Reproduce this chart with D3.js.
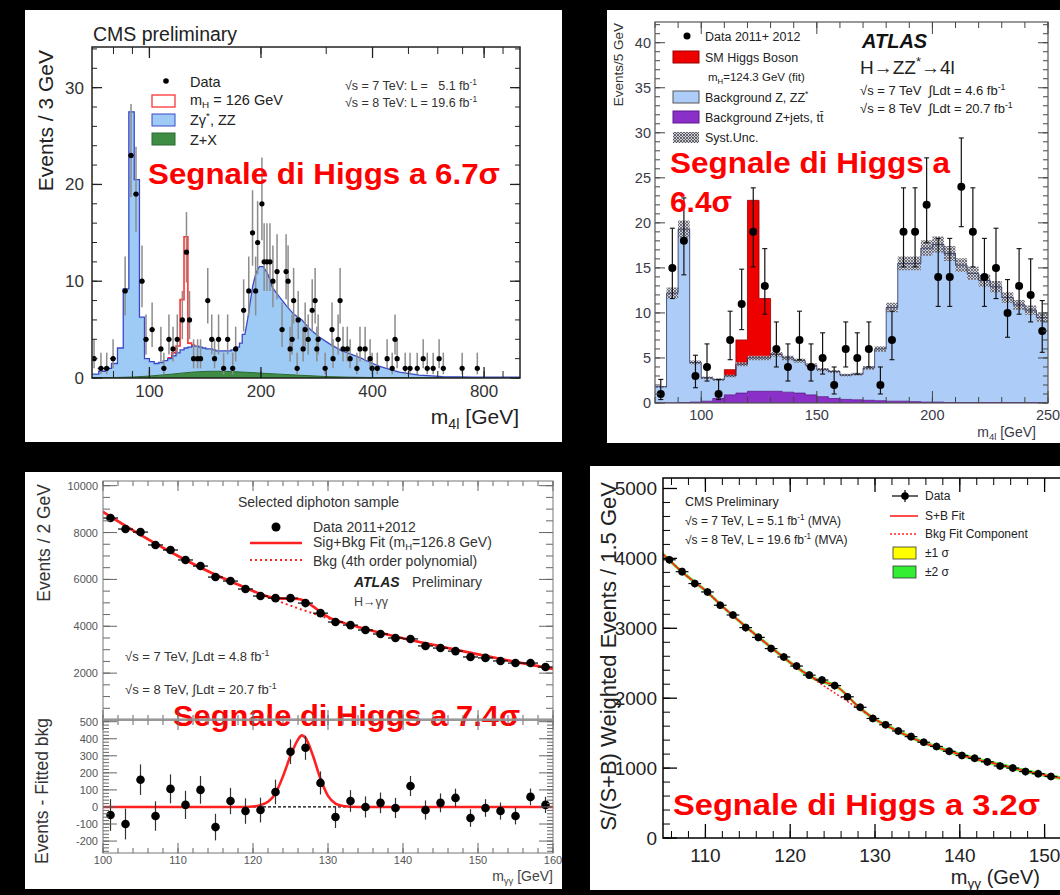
<!DOCTYPE html>
<html>
<head>
<meta charset="utf-8">
<script src="https://cdn.jsdelivr.net/npm/d3@7"></script>
<style>
  html, body { margin: 0; padding: 0; background: #000; }
  svg { display: block; }
</style>
</head>
<body>
<div id="chart"></div>
<script>

/* DATA *******************************************************************************/

// CMS H->ZZ->4l (top left): ZZ background in 3 GeV bins up to 181 GeV, then smooth tail
var cms4lBinLow = [70,73,76,79,82,85,88,91,94,97,100,103,106,109,112,115,118,121,124,127,130,133,136,139,142,145,148,151,154,157,160,163,166,169,172,175,178];
var cms4lZZ = [0.4,0.7,1.0,1.5,3.1,9.2,27.5,20.5,6.3,2.0,1.7,1.5,1.6,1.8,2.0,2.3,2.6,2.9,3.1,3.2,3.3,3.3,3.2,3.1,3.0,3.0,2.9,2.8,2.8,2.8,2.8,2.8,2.9,3.0,3.2,3.6,4.5];
var cms4lTailMass = [181,184,187,190,194,198,203,209,215,224,235,245,258,272,288,307,327,348,370,395,418,445,473,535,620,750,1000];
var cms4lTailZZ = [4.5,6.0,7.8,9.5,10.9,11.5,11.5,10.7,9.3,8.4,7.4,6.6,6.0,5.0,4.2,3.5,2.9,2.5,2.1,1.6,1.2,0.9,0.6,0.3,0.15,0.1,0.1];
var cms4lSigLow = [112,115,118,121,124,127,130];
var cms4lSigTot = [2.1,2.6,3.3,8.1,14.6,3.6,3.4];
var cms4lZXMass = [70,90,100,115,130,150,170,200,250,300,400,600,1000];
var cms4lZX = [0.02,0.1,0.2,0.4,0.6,0.7,0.65,0.5,0.3,0.15,0.05,0.01,0];
var cms4lDataMass = [70.9,74.0,76.7,79.8,86.0,89.2,92.0,95.5,97.9,101.7,107.4,109.4,112.9,115.8,118.9,122.7,125.9,128.3,131.6,134.9,137.4,143.7,147.3,149.9,153.7,158.6,162.6,167.8,170.9,179.6,185.4,189.8,193.5,195.9,201.2,204,207.6,211.5,215.4,221,228,233.8,236.7,239.7,242.7,245,250.4,252,259.9,263.2,268.2,275,280,283,285.3,298,311,313,323,327,333,342,348,363,370,382,394,399,412,438,452,460,466,490,505,528,548,562,583,605,621,698,767];
var cms4lDataN = [2,1,1,2,9,23,19,10,4,5,3,1,4,3,4,6,13,6,2,2,2,8,4,2,4,1,4,1,3,7,9,15,9,14,18,12,12,12,10,11,5,11,10,3,4,8,1,6,3,5,4,7,8,3,4,1,5,2,4,8,3,3,2,1,3,3,2,1,1,2,1,4,2,1,1,1,2,1,1,2,1,1,1];
var cms4lYTicks = [0,10,20,30];
var cms4lXTicks = [100,200,400,800];

// ATLAS H->ZZ*->4l (top right): 5 GeV bins
var atlas4lBinLow = [80,85,90,95,100,105,110,115,120,125,130,135,140,145,150,155,160,165,170,175,180,185,190,195,200,205,210,215,220,225,230,235,240,245];
var atlas4lZjets = [0,0,0.05,0.1,0.2,0.5,0.9,1.1,1.3,1.3,1.3,1.2,1.1,0.9,0.7,0.5,0.4,0.35,0.3,0.25,0.2,0.2,0.15,0.1,0.1,0.05,0.05,0.05,0.05,0.05,0.05,0.05,0.05,0.05];
var atlas4lZZ = [1.8,12.2,19.25,4.4,2.6,2.1,2.1,3.2,3.7,3.7,4.1,3.8,3.6,3.3,3.0,3.0,2.7,2.85,3.6,5.75,10.4,15.3,15.35,17.1,17.5,16.55,15.25,14.35,13.55,12.85,11.65,10.85,10.25,9.45];
var atlas4lHiggs = [0,0,0,0,0,0,0.7,2.7,17.5,6.6,0.1,0,0,0,0,0,0,0,0,0,0,0,0,0,0,0,0,0,0,0,0,0,0,0];
var atlas4lDataN = [1,15,18,3,4,1,7,11,19,13,6,4,7,4,5,2,6,5,6,2,7,19,19,22,14,14,24,19,14,15,10,13,12,8];
var atlas4lYTicks = [0,5,10,15,20,25,30,35,40];
var atlas4lXTicks = [100,150,200,250];
var atlas4lSystFrac = 0.05;

// ATLAS H->gamma gamma (bottom left)
var aggMass = [101,103,105,107,109,111,113,115,117,119,121,123,125,127,129,131,133,135,137,139,141,143,145,147,149,151,153,155,157,159];
var aggEvents = [8620,8150,8020,7470,7255,6830,6570,6100,5930,5590,5290,5200,5200,4990,4560,4180,4050,3840,3670,3500,3460,3160,3070,2940,2690,2650,2520,2430,2430,2260];
var aggResid = [-47,-100,160,-53,106,12,100,-118,35,-24,-18,88,324,347,141,-59,35,0,24,-6,123,-18,24,53,-65,-6,-24,-53,59,12];
var aggFitMass = [100,105,110,115,118,120,121,122,123,124,125,126,126.5,127,128,129,130,131,132,134,136,140,145,150,155,160];
var aggBkgFit = [8880,7900,7000,6200,5780,5500,5370,5240,5120,5000,4880,4770,4710,4660,4550,4440,4340,4240,4150,3970,3800,3490,3140,2800,2480,2180];
var aggSigFit = [0,0,0,0,0,3,10,30,80,180,300,395,420,405,300,165,65,20,6,0,0,0,0,0,0,0];
var aggYTicks = [2000,4000,6000,8000,10000];
var aggResTicks = [-200,-100,0,100,200,300,400,500];
var aggXTicks = [100,110,120,130,140,150,160];

// CMS H->gamma gamma, S/(S+B) weighted (bottom right)
var cggMass = [105.75,107.25,108.75,110.25,111.75,113.25,114.75,116.25,117.75,119.25,120.75,122.25,123.75,125.25,126.75,128.25,129.75,131.25,132.75,134.25,135.75,137.25,138.75,140.25,141.75,143.25,144.75,146.25,147.75,149.25,150.75];
var cggWeighted = [3980,3810,3640,3520,3330,3190,3010,2870,2710,2590,2460,2330,2260,2180,2020,1870,1710,1620,1530,1450,1370,1310,1240,1180,1140,1090,1030,1000,950,920,880];
var cggFitMass = [105,107.5,110,112.5,115,117.5,120,122.5,123.5,124.5,125.5,126.5,127.5,128.5,130,132.5,135,137.5,140,142.5,145,147.5,150,152.5,155];
var cggBkgFit = [4060,3780,3540,3260,3000,2750,2510,2300,2215,2135,2055,1975,1895,1820,1700,1540,1400,1290,1195,1110,1040,965,900,845,790];
var cggSigFit = [0,0,0,0,0,0,0,5,30,80,110,90,45,12,0,0,0,0,0,0,0,0,0,0,0];
var cggYTicks = [0,1000,2000,3000,4000,5000];
var cggXTicks = [110,120,130,140,150];
var cggBand1 = 14, cggBand2 = 28, cggErr = 55;

/* SETUP ******************************************************************************/

var W = 1060, H = 895;
var FONT = "'Liberation Sans', Arial, Helvetica, sans-serif";

var svg = d3.select('#chart').append('svg').attr('width', W).attr('height', H);
svg.append('rect').attr('width', W).attr('height', H).attr('fill', '#000');
var defs = svg.append('defs');

// cross hatch for the ATLAS systematic band
var pat = defs.append('pattern').attr('id', 'hatch').attr('patternUnits', 'userSpaceOnUse')
    .attr('width', 3).attr('height', 3);
pat.append('rect').attr('width', 3).attr('height', 3).attr('fill', '#cfcfd6');
pat.append('path').attr('d', 'M0,0 L3,3 M3,0 L0,3').attr('stroke', '#4a4a55').attr('stroke-width', 0.8);

function clip(id, x, y, w, h) {
    defs.append('clipPath').attr('id', id).append('rect')
        .attr('x', x).attr('y', y).attr('width', w).attr('height', h);
}

// text with optional sub / superscript pieces
function addText(g, x, y, parts, size, o) {
    o = o || {};
    var t = g.append('text').attr('x', x).attr('y', y)
        .attr('font-family', o.family || FONT).attr('font-size', size)
        .attr('fill', o.fill || '#000');
    if (o.anchor) t.attr('text-anchor', o.anchor);
    if (o.weight) t.attr('font-weight', o.weight);
    if (o.style) t.attr('font-style', o.style);
    if (o.length) t.attr('textLength', o.length).attr('lengthAdjust', 'spacingAndGlyphs');
    if (o.rotate) t.attr('transform', 'rotate(-90,' + x + ',' + y + ')');
    if (typeof parts === 'string') parts = [parts];
    var shift = 0;
    parts.forEach(function(p) {
        var s = t.append('tspan'), target = 0, str = p;
        if (typeof p !== 'string') {
            str = p.t;
            if (p.sub) target = size * 0.22;
            if (p.sup) target = -size * 0.4;
            s.attr('font-size', size * 0.68);
        }
        s.text(str);
        if (target - shift !== 0) s.attr('dy', target - shift);
        shift = target;
    });
    return t;
}

function ticksY(g, y, vals, x, len, color, w) {
    g.append('g').selectAll('line').data(vals).join('line')
        .attr('x1', x).attr('x2', x + len)
        .attr('y1', function(d) { return y(d) }).attr('y2', function(d) { return y(d) })
        .attr('stroke', color).attr('stroke-width', w || 1);
}
function ticksX(g, x, vals, y, len, color, w) {
    g.append('g').selectAll('line').data(vals).join('line')
        .attr('y1', y).attr('y2', y + len)
        .attr('x1', function(d) { return x(d) }).attr('x2', function(d) { return x(d) })
        .attr('stroke', color).attr('stroke-width', w || 1);
}
function frame(g, x0, y0, x1, y1, color, w) {
    g.append('rect').attr('x', x0).attr('y', y0).attr('width', x1 - x0).attr('height', y1 - y0)
        .attr('fill', 'none').attr('stroke', color).attr('stroke-width', w);
}
function bigRed(g, x, y, s, len) {
    addText(g, x, y, s, 29, {fill: '#ff0000', weight: 'bold', length: len});
}

/* PANEL A: CMS 4l ********************************************************************/

var gA = svg.append('g');
gA.append('rect').attr('x', 25).attr('y', 10).attr('width', 537).attr('height', 432).attr('fill', '#fff');
var xA = d3.scaleLog().domain([70, 1000]).range([92, 520]);
var yA = d3.scaleLinear().domain([0, 34.2]).range([378, 47]);
clip('clipA', 92, 47, 428, 331);
var pA = gA.append('g').attr('clip-path', 'url(#clipA)');

var zzPts = [];
cms4lBinLow.forEach(function(lo, i) { zzPts.push([lo, cms4lZZ[i]], [lo + 3, cms4lZZ[i]]) });
cms4lTailMass.forEach(function(m, i) { zzPts.push([m, cms4lTailZZ[i]]) });
var lineA = d3.line().x(function(d) { return xA(d[0]) }).y(function(d) { return yA(d[1]) });

pA.append('path').datum(zzPts)
    .attr('d', d3.area().x(function(d) { return xA(d[0]) }).y0(yA(0)).y1(function(d) { return yA(d[1]) }))
    .attr('fill', '#9dcbf5');
pA.append('path').datum(d3.zip(cms4lZXMass, cms4lZX))
    .attr('d', d3.area().curve(d3.curveMonotoneX).x(function(d) { return xA(d[0]) }).y0(yA(0)).y1(function(d) { return yA(d[1]) }))
    .attr('fill', '#3f8c45').attr('stroke', '#2a6a30').attr('stroke-width', 1);

var sigPts = [];
cms4lSigLow.forEach(function(lo, i) { sigPts.push([lo, cms4lSigTot[i]], [lo + 3, cms4lSigTot[i]]) });
pA.append('path').datum(sigPts).attr('d', lineA)
    .attr('fill', 'none').attr('stroke', '#ff3333').attr('stroke-width', 1.6);
pA.append('path').datum(zzPts).attr('d', lineA)
    .attr('fill', 'none').attr('stroke', '#3a48c8').attr('stroke-width', 1.3);

var dataA = cms4lDataMass.map(function(m, i) { return {m: m, n: cms4lDataN[i]} });
pA.append('g').selectAll('line').data(dataA).join('line')
    .attr('x1', function(d) { return xA(d.m) }).attr('x2', function(d) { return xA(d.m) })
    .attr('y1', function(d) { return yA(d.n + Math.sqrt(d.n + 0.25) + 0.5) })
    .attr('y2', function(d) { return yA(Math.max(0, d.n - Math.sqrt(d.n + 0.25) + 0.5)) })
    .attr('stroke', '#8c8c8c').attr('stroke-width', 1.5);
pA.append('g').selectAll('line').data(dataA).join('line')
    .attr('x1', function(d) { return xA(d.m - 1.5) }).attr('x2', function(d) { return xA(d.m + 1.5) })
    .attr('y1', function(d) { return yA(d.n) }).attr('y2', function(d) { return yA(d.n) })
    .attr('stroke', '#000').attr('stroke-width', 1);
pA.append('g').selectAll('circle').data(dataA).join('circle')
    .attr('cx', function(d) { return xA(d.m) }).attr('cy', function(d) { return yA(d.n) })
    .attr('r', 2.6).attr('fill', '#000');

// axes
var logTicksA = [80,90,100,200,300,400,500,600,700,800,900];
ticksY(gA, yA, d3.range(0, 34.2, 2), 92, 5, '#222');
ticksY(gA, yA, cms4lYTicks, 92, 10, '#222', 1.3);
ticksY(gA, yA, d3.range(0, 34.2, 2), 520, -5, '#222');
ticksY(gA, yA, cms4lYTicks, 520, -10, '#222', 1.3);
ticksX(gA, xA, logTicksA, 378, -7, '#222');
ticksX(gA, xA, cms4lXTicks, 378, -11, '#222', 1.3);
ticksX(gA, xA, logTicksA, 47, 7, '#222');
ticksX(gA, xA, cms4lXTicks, 47, 11, '#222', 1.3);
frame(gA, 92, 47, 520, 378, '#222', 1.5);

cms4lYTicks.forEach(function(v) { addText(gA, 84, yA(v) + 6, String(v), 17, {anchor: 'end', fill: '#333'}) });
cms4lXTicks.forEach(function(v) { addText(gA, xA(v), 397, String(v), 17, {anchor: 'middle', fill: '#333'}) });
addText(gA, 53, 50, 'Events / 3 GeV', 21, {anchor: 'end', rotate: true, fill: '#222'});
addText(gA, 519, 424, ['m', {t: '4l', sub: true}, ' [GeV]'], 21, {anchor: 'end', fill: '#222'});
addText(gA, 93, 41, 'CMS preliminary', 19.5, {fill: '#222'});

// legend
gA.append('circle').attr('cx', 166).attr('cy', 81).attr('r', 2.8).attr('fill', '#000');
gA.append('rect').attr('x', 152).attr('y', 95).attr('width', 23).attr('height', 12).attr('fill', '#fff').attr('stroke', '#ff3333').attr('stroke-width', 1.3);
gA.append('rect').attr('x', 152).attr('y', 114).attr('width', 23).attr('height', 12).attr('fill', '#9dcbf5').attr('stroke', '#3a48c8');
gA.append('rect').attr('x', 152).attr('y', 133).attr('width', 23).attr('height', 12).attr('fill', '#3f8c45').attr('stroke', '#2a6a30');
addText(gA, 190, 87, 'Data', 14.5, {fill: '#222'});
addText(gA, 190, 105, ['m', {t: 'H', sub: true}, ' = 126 GeV'], 14.5, {fill: '#222'});
addText(gA, 190, 125, ['Z\u03b3', {t: '*', sup: true}, ', ZZ'], 14.5, {fill: '#222'});
addText(gA, 190, 145, 'Z+X', 14.5, {fill: '#222'});
addText(gA, 345, 90, ['\u221as = 7 TeV: L =\u00a0\u00a0 5.1 fb', {t: '-1', sup: true}], 12.5, {fill: '#333'});
addText(gA, 345, 107, ['\u221as = 8 TeV: L = 19.6 fb', {t: '-1', sup: true}], 12.5, {fill: '#333'});
bigRed(gA, 148, 184, 'Segnale di Higgs a 6.7\u03c3', 352);

/* PANEL B: ATLAS 4l ******************************************************************/

var gB = svg.append('g');
gB.append('rect').attr('x', 607).attr('y', 10).attr('width', 453).attr('height', 433).attr('fill', '#fff');
var xB = d3.scaleLinear().domain([80, 250]).range([655, 1048]);
var yB = d3.scaleLinear().domain([0, 42.3]).range([403, 22]);
clip('clipB', 655, 22, 393, 381);
var pB = gB.append('g').attr('clip-path', 'url(#clipB)');

var rowsB = atlas4lBinLow.map(function(lo, i) {
    return {lo: lo, hi: lo + 5, zj: atlas4lZjets[i], tot: atlas4lZjets[i] + atlas4lZZ[i], h: atlas4lHiggs[i], n: atlas4lDataN[i]};
});
function stepArea(rows, f0, f1) {
    var pts = [];
    rows.forEach(function(r) { pts.push([r.lo, f0(r), f1(r)], [r.hi, f0(r), f1(r)]) });
    return pts;
}
var areaB = d3.area().x(function(d) { return xB(d[0]) })
    .y0(function(d) { return yB(d[1]) }).y1(function(d) { return yB(d[2]) });

pB.append('path').datum(stepArea(rowsB, function(r) { return r.zj }, function(r) { return r.tot }))
    .attr('d', areaB).attr('fill', '#adcdf8');
pB.append('path').datum(stepArea(rowsB, function() { return 0 }, function(r) { return r.zj }))
    .attr('d', areaB).attr('fill', '#8b2fc9').attr('stroke', '#5a1a8a').attr('stroke-width', 0.8);
var higgsRows = rowsB.filter(function(r) { return r.h > 0 });
pB.append('path').datum(stepArea(higgsRows, function(r) { return r.tot }, function(r) { return r.tot + r.h }))
    .attr('d', areaB).attr('fill', '#ee0000').attr('stroke', '#990000').attr('stroke-width', 0.8);
pB.append('path').datum(stepArea(rowsB, function(r) { return r.tot * (1 - atlas4lSystFrac) }, function(r) { return r.tot * (1 + atlas4lSystFrac) }))
    .attr('d', areaB).attr('fill', 'url(#hatch)').attr('opacity', 0.9);
pB.append('path').datum(stepArea(rowsB, function(r) { return r.tot }, function(r) { return r.tot }))
    .attr('d', d3.line().x(function(d) { return xB(d[0]) }).y(function(d) { return yB(d[1]) }))
    .attr('fill', 'none').attr('stroke', '#2a2f55').attr('stroke-width', 0.8);

// data with Poisson-like bars
function errHi(n) { return n + Math.sqrt(n + 0.25) + 0.5 }
function errLo(n) { return Math.max(0, n - Math.sqrt(n + 0.25) + 0.5) }
var dB = pB.append('g');
dB.selectAll('line.v').data(rowsB).join('line').attr('class', 'v')
    .attr('x1', function(d) { return xB(d.lo + 2.5) }).attr('x2', function(d) { return xB(d.lo + 2.5) })
    .attr('y1', function(d) { return yB(errHi(d.n)) }).attr('y2', function(d) { return yB(errLo(d.n)) })
    .attr('stroke', '#111').attr('stroke-width', 1.2);
[errHi, errLo].forEach(function(f) {
    dB.append('g').selectAll('line').data(rowsB).join('line')
        .attr('x1', function(d) { return xB(d.lo + 2.5) - 2.5 }).attr('x2', function(d) { return xB(d.lo + 2.5) + 2.5 })
        .attr('y1', function(d) { return yB(f(d.n)) }).attr('y2', function(d) { return yB(f(d.n)) })
        .attr('stroke', '#111').attr('stroke-width', 1.1);
});
dB.selectAll('circle').data(rowsB).join('circle')
    .attr('cx', function(d) { return xB(d.lo + 2.5) }).attr('cy', function(d) { return yB(d.n) })
    .attr('r', 4).attr('fill', '#000');

ticksY(gB, yB, d3.range(0, 43, 1), 655, 5, '#444');
ticksY(gB, yB, atlas4lYTicks, 655, 10, '#444');
ticksY(gB, yB, d3.range(0, 43, 1), 1048, -5, '#444');
ticksY(gB, yB, atlas4lYTicks, 1048, -10, '#444');
ticksX(gB, xB, d3.range(80, 251, 10), 403, -6, '#444');
ticksX(gB, xB, atlas4lXTicks, 403, -12, '#444');
ticksX(gB, xB, d3.range(80, 251, 10), 22, 6, '#444');
ticksX(gB, xB, atlas4lXTicks, 22, 12, '#444');
frame(gB, 655, 22, 1048, 403, '#555', 1.2);

atlas4lYTicks.forEach(function(v) { addText(gB, 651, yB(v) + 5, String(v), 14.5, {anchor: 'end', fill: '#3a3a48'}) });
atlas4lXTicks.forEach(function(v) { addText(gB, xB(v), 420, String(v), 14.5, {anchor: 'middle', fill: '#3a3a48'}) });
addText(gB, 623, 23, 'Events/5 GeV', 13.5, {anchor: 'end', rotate: true, fill: '#333'});
addText(gB, 1036, 437, ['m', {t: '4l', sub: true}, ' [GeV]'], 14, {anchor: 'end', fill: '#3a3a48'});

gB.append('circle').attr('cx', 687).attr('cy', 36).attr('r', 3.5).attr('fill', '#000');
gB.append('rect').attr('x', 673).attr('y', 51).attr('width', 26).attr('height', 12).attr('fill', '#ee0000').attr('stroke', '#990000');
gB.append('rect').attr('x', 673).attr('y', 91).attr('width', 26).attr('height', 12).attr('fill', '#adcdf8').attr('stroke', '#555');
gB.append('rect').attr('x', 673).attr('y', 111).attr('width', 26).attr('height', 12).attr('fill', '#8b2fc9').attr('stroke', '#5a1a8a');
gB.append('rect').attr('x', 673).attr('y', 132).attr('width', 26).attr('height', 11).attr('fill', 'url(#hatch)');
addText(gB, 705, 41, 'Data 2011+ 2012', 12.5, {fill: '#222'});
addText(gB, 705, 62, 'SM Higgs Boson', 12.5, {fill: '#222'});
addText(gB, 708, 81, ['m', {t: 'H', sub: true}, '=124.3 GeV (fit)'], 11.5, {fill: '#222'});
addText(gB, 705, 102, ['Background Z, ZZ', {t: '*', sup: true}], 12.5, {fill: '#222'});
addText(gB, 705, 122, 'Background Z+jets, tt\u0304', 12.5, {fill: '#222'});
addText(gB, 705, 142, 'Syst.Unc.', 12.5, {fill: '#222'});
addText(gB, 862, 48, 'ATLAS', 20, {weight: 'bold', style: 'italic', fill: '#111'});
addText(gB, 860, 74, ['H\u2192ZZ', {t: '*', sup: true}, '\u21924l'], 19, {fill: '#222'});
addText(gB, 860, 95, ['\u221as = 7 TeV \u00a0\u222bLdt = 4.6 fb', {t: '-1', sup: true}], 13, {fill: '#222'});
addText(gB, 860, 113, ['\u221as = 8 TeV \u00a0\u222bLdt = 20.7 fb', {t: '-1', sup: true}], 13, {fill: '#222'});
bigRed(gB, 670, 173, 'Segnale di Higgs a', 280);
bigRed(gB, 670, 212, '6.4\u03c3', 62);

/* PANEL C: ATLAS gamma gamma *********************************************************/

var gC = svg.append('g');
gC.append('rect').attr('x', 25).attr('y', 472).attr('width', 537).attr('height', 417).attr('fill', '#fff');
var xC = d3.scaleLinear().domain([100, 160]).range([103, 553]);
var yCu = d3.scaleLinear().domain([0, 10200]).range([720, 481]);
var yCl = d3.scaleLinear().domain([-270, 510]).range([853, 720]);
clip('clipCu', 103, 481, 450, 239);
clip('clipCl', 103, 720, 450, 133);
var pCu = gC.append('g').attr('clip-path', 'url(#clipCu)');
var pCl = gC.append('g').attr('clip-path', 'url(#clipCl)');

var fitC = aggFitMass.map(function(m, i) { return {m: m, b: aggBkgFit[i], s: aggSigFit[i]} });
pCu.append('path').datum(fitC)
    .attr('d', d3.line().curve(d3.curveMonotoneX).x(function(d) { return xC(d.m) }).y(function(d) { return yCu(d.b) }))
    .attr('fill', 'none').attr('stroke', '#ff2020').attr('stroke-width', 2).attr('stroke-dasharray', '2,3');
pCu.append('path').datum(fitC)
    .attr('d', d3.line().curve(d3.curveMonotoneX).x(function(d) { return xC(d.m) }).y(function(d) { return yCu(d.b + d.s) }))
    .attr('fill', 'none').attr('stroke', '#ff2020').attr('stroke-width', 2.6);
pCl.append('line').attr('x1', 103).attr('x2', 553).attr('y1', yCl(0)).attr('y2', yCl(0))
    .attr('stroke', '#000').attr('stroke-width', 1.3).attr('stroke-dasharray', '3,2');
pCl.append('path').datum(fitC)
    .attr('d', d3.line().curve(d3.curveMonotoneX).x(function(d) { return xC(d.m) }).y(function(d) { return yCl(d.s) }))
    .attr('fill', 'none').attr('stroke', '#ff2020').attr('stroke-width', 2.6);

var dataC = aggMass.map(function(m, i) { return {m: m, n: aggEvents[i], r: aggResid[i]} });
pCu.append('g').selectAll('line').data(dataC).join('line')
    .attr('x1', function(d) { return xC(d.m - 1) }).attr('x2', function(d) { return xC(d.m + 1) })
    .attr('y1', function(d) { return yCu(d.n) }).attr('y2', function(d) { return yCu(d.n) })
    .attr('stroke', '#000').attr('stroke-width', 1.2);
pCu.append('g').selectAll('circle').data(dataC).join('circle')
    .attr('cx', function(d) { return xC(d.m) }).attr('cy', function(d) { return yCu(d.n) })
    .attr('r', 4.3).attr('fill', '#000');
pCl.append('g').selectAll('line').data(dataC).join('line')
    .attr('x1', function(d) { return xC(d.m) }).attr('x2', function(d) { return xC(d.m) })
    .attr('y1', function(d) { return yCl(d.r + Math.sqrt(d.n)) }).attr('y2', function(d) { return yCl(d.r - Math.sqrt(d.n)) })
    .attr('stroke', '#333').attr('stroke-width', 1.2);
pCl.append('g').selectAll('circle').data(dataC).join('circle')
    .attr('cx', function(d) { return xC(d.m) }).attr('cy', function(d) { return yCl(d.r) })
    .attr('r', 4.3).attr('fill', '#000');

// text that the pad border runs through
addText(gC, 238, 507, 'Selected diphoton sample', 14, {fill: '#333'});
gC.append('circle').attr('cx', 276).attr('cy', 527).attr('r', 4.5).attr('fill', '#000');
gC.append('line').attr('x1', 250).attr('x2', 302).attr('y1', 543).attr('y2', 543).attr('stroke', '#ff2020').attr('stroke-width', 2.5);
gC.append('line').attr('x1', 250).attr('x2', 302).attr('y1', 560).attr('y2', 560).attr('stroke', '#ff2020').attr('stroke-width', 2).attr('stroke-dasharray', '2,3');
addText(gC, 313, 532, 'Data 2011+2012', 14, {fill: '#333'});
addText(gC, 313, 547, ['Sig+Bkg Fit (m', {t: 'H', sub: true}, '=126.8 GeV)'], 14, {fill: '#333'});
addText(gC, 313, 566, 'Bkg (4th order polynomial)', 14, {fill: '#333'});
addText(gC, 354, 587, 'ATLAS', 14, {weight: 'bold', style: 'italic', fill: '#222'});
addText(gC, 412, 587, 'Preliminary', 14, {fill: '#333'});
addText(gC, 354, 606, 'H\u2192\u03b3\u03b3', 12.5, {fill: '#444'});
addText(gC, 125, 661, ['\u221as = 7 TeV, \u222bLdt = 4.8 fb', {t: '-1', sup: true}], 13, {fill: '#333'});
addText(gC, 125, 694, ['\u221as = 8 TeV, \u222bLdt = 20.7 fb', {t: '-1', sup: true}], 13, {fill: '#333'});
bigRed(gC, 173, 726, 'Segnale di Higgs a 7.4\u03c3', 347);

ticksY(gC, yCu, d3.range(500, 10200, 500), 103, 7, '#666');
ticksY(gC, yCu, aggYTicks, 103, 14, '#666');
ticksY(gC, yCu, d3.range(500, 10200, 500), 553, -7, '#666');
ticksY(gC, yCu, aggYTicks, 553, -14, '#666');
ticksY(gC, yCl, d3.range(-260, 510, 20), 103, 6, '#666');
ticksY(gC, yCl, aggResTicks, 103, 14, '#666');
ticksY(gC, yCl, d3.range(-260, 510, 20), 553, -6, '#666');
ticksY(gC, yCl, aggResTicks, 553, -14, '#666');
[481, 720].forEach(function(yy) {
    ticksX(gC, xC, d3.range(100, 161, 2), yy, 5, '#666');
    ticksX(gC, xC, aggXTicks, yy, 10, '#666');
});
[720, 853].forEach(function(yy) {
    ticksX(gC, xC, d3.range(100, 161, 2), yy, -5, '#666');
    ticksX(gC, xC, aggXTicks, yy, -10, '#666');
});
frame(gC, 103, 481, 553, 720, '#777', 1);
frame(gC, 103, 720, 553, 853, '#777', 1);
gC.append('line').attr('x1', 103).attr('x2', 553).attr('y1', 719.5).attr('y2', 719.5).attr('stroke', '#999').attr('stroke-width', 2.5).attr('opacity', 0.8);

aggYTicks.forEach(function(v) { addText(gC, 98, yCu(v) + 4, String(v), 11, {anchor: 'end', fill: '#555'}) });
aggResTicks.forEach(function(v) { addText(gC, 98, yCl(v) + 4, String(v), 11, {anchor: 'end', fill: '#555'}) });
aggXTicks.forEach(function(v) { addText(gC, xC(v), 864, String(v), 11, {anchor: 'middle', fill: '#555'}) });
addText(gC, 50, 484, 'Events / 2 GeV', 17.5, {anchor: 'end', rotate: true, fill: '#333'});
addText(gC, 48, 718, 'Events - Fitted bkg', 17.5, {anchor: 'end', rotate: true, fill: '#333'});
addText(gC, 553, 881, ['m', {t: '\u03b3\u03b3', sub: true}, ' [GeV]'], 14, {anchor: 'end', fill: '#444'});

/* PANEL D: CMS gamma gamma ***********************************************************/

var gD = svg.append('g');
gD.append('rect').attr('x', 590).attr('y', 466).attr('width', 470).attr('height', 424).attr('fill', '#fff');
var xD = d3.scaleLinear().domain([105, 155]).range([663, 1087]);
var yD = d3.scaleLinear().domain([0, 5150]).range([838, 478]);
clip('clipD', 663, 478, 397, 360);
var pD = gD.append('g').attr('clip-path', 'url(#clipD)');

var fitD = cggFitMass.map(function(m, i) { return {m: m, b: cggBkgFit[i], s: cggSigFit[i]} });
function bandD(w) {
    return d3.area().curve(d3.curveMonotoneX).x(function(d) { return xD(d.m) })
        .y0(function(d) { return yD(d.b + d.s - w) }).y1(function(d) { return yD(d.b + d.s + w) });
}
pD.append('path').datum(fitD).attr('d', bandD(cggBand2)).attr('fill', '#33ee33');
pD.append('path').datum(fitD).attr('d', bandD(cggBand1)).attr('fill', '#ffff00');
pD.append('path').datum(fitD)
    .attr('d', d3.line().curve(d3.curveMonotoneX).x(function(d) { return xD(d.m) }).y(function(d) { return yD(d.b) }))
    .attr('fill', 'none').attr('stroke', '#ff2020').attr('stroke-width', 1.5).attr('stroke-dasharray', '2,2');
pD.append('path').datum(fitD)
    .attr('d', d3.line().curve(d3.curveMonotoneX).x(function(d) { return xD(d.m) }).y(function(d) { return yD(d.b + d.s) }))
    .attr('fill', 'none').attr('stroke', '#ff2020').attr('stroke-width', 1.6);

var dataD = cggMass.map(function(m, i) { return {m: m, v: cggWeighted[i]} });
pD.append('g').selectAll('line').data(dataD).join('line')
    .attr('x1', function(d) { return xD(d.m - 0.75) }).attr('x2', function(d) { return xD(d.m + 0.75) })
    .attr('y1', function(d) { return yD(d.v) }).attr('y2', function(d) { return yD(d.v) })
    .attr('stroke', '#000').attr('stroke-width', 1.2);
pD.append('g').selectAll('line').data(dataD).join('line')
    .attr('x1', function(d) { return xD(d.m) }).attr('x2', function(d) { return xD(d.m) })
    .attr('y1', function(d) { return yD(d.v + cggErr) }).attr('y2', function(d) { return yD(d.v - cggErr) })
    .attr('stroke', '#000').attr('stroke-width', 1.2);
pD.append('g').selectAll('circle').data(dataD).join('circle')
    .attr('cx', function(d) { return xD(d.m) }).attr('cy', function(d) { return yD(d.v) })
    .attr('r', 3.8).attr('fill', '#000');

ticksY(gD, yD, d3.range(0, 5150, 200), 663, 7, '#000');
ticksY(gD, yD, cggYTicks, 663, 14, '#000', 1.3);
ticksX(gD, xD, d3.range(106, 156, 2), 838, -7, '#000');
ticksX(gD, xD, cggXTicks, 838, -14, '#000', 1.3);
ticksX(gD, xD, d3.range(106, 156, 2), 478, 7, '#000');
ticksX(gD, xD, cggXTicks, 478, 14, '#000', 1.3);
gD.append('path').attr('d', 'M1060,478 H663 V838 H1060').attr('fill', 'none').attr('stroke', '#000').attr('stroke-width', 1.5);

cggYTicks.forEach(function(v) { addText(gD, 657, yD(v) + 7, String(v), 19, {anchor: 'end', fill: '#222'}) });
cggXTicks.forEach(function(v) { addText(gD, xD(v), 862, String(v), 19, {anchor: 'middle', fill: '#222'}) });
addText(gD, 616, 482, 'S/(S+B) Weighted Events / 1.5 GeV', 22, {anchor: 'end', rotate: true, fill: '#222'});
addText(gD, 1040, 884, ['m', {t: '\u03b3\u03b3', sub: true}, ' (GeV)'], 20, {anchor: 'end', fill: '#222'});

addText(gD, 685, 506, 'CMS Preliminary', 12.5, {fill: '#222'});
addText(gD, 685, 525, ['\u221as = 7 TeV, L = 5.1 fb', {t: '-1', sup: true}, ' (MVA)'], 12, {fill: '#222'});
addText(gD, 685, 544, ['\u221as = 8 TeV, L = 19.6 fb', {t: '-1', sup: true}, ' (MVA)'], 12, {fill: '#222'});
gD.append('line').attr('x1', 892).attr('x2', 918).attr('y1', 496).attr('y2', 496).attr('stroke', '#000').attr('stroke-width', 1.2);
gD.append('line').attr('x1', 905).attr('x2', 905).attr('y1', 490).attr('y2', 502).attr('stroke', '#000').attr('stroke-width', 1.2);
gD.append('circle').attr('cx', 905).attr('cy', 496).attr('r', 3.8).attr('fill', '#000');
gD.append('line').attr('x1', 890).attr('x2', 918).attr('y1', 516).attr('y2', 516).attr('stroke', '#ff2020').attr('stroke-width', 1.6);
gD.append('line').attr('x1', 890).attr('x2', 918).attr('y1', 534).attr('y2', 534).attr('stroke', '#ff2020').attr('stroke-width', 1.6).attr('stroke-dasharray', '2,2');
gD.append('rect').attr('x', 893).attr('y', 547).attr('width', 23).attr('height', 12).attr('fill', '#ffff00').attr('stroke', '#333').attr('stroke-width', 0.8);
gD.append('rect').attr('x', 893).attr('y', 566).attr('width', 23).attr('height', 12).attr('fill', '#33ee33').attr('stroke', '#333').attr('stroke-width', 0.8);
addText(gD, 925, 500, 'Data', 12, {fill: '#222'});
addText(gD, 925, 520, 'S+B Fit', 12, {fill: '#222'});
addText(gD, 925, 538, 'Bkg Fit Component', 12, {fill: '#222'});
addText(gD, 925, 557, '\u00b11 \u03c3', 12, {fill: '#222'});
addText(gD, 925, 576, '\u00b12 \u03c3', 12, {fill: '#222'});
bigRed(gD, 673, 815, 'Segnale di Higgs a 3.2\u03c3', 367);

</script>
</body>
</html>
